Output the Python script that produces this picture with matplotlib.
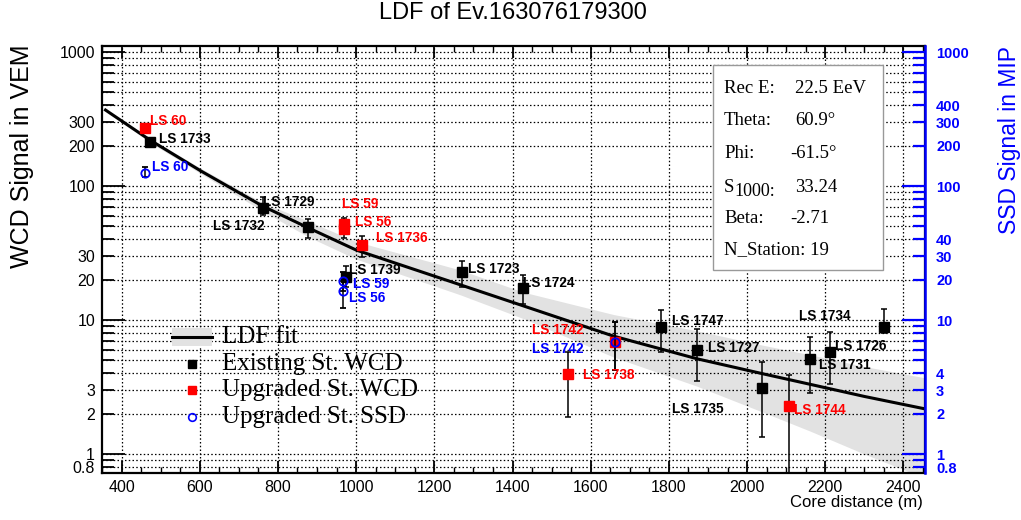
import matplotlib
matplotlib.use('Agg')
import matplotlib.pyplot as plt
from matplotlib.ticker import FixedLocator, FuncFormatter
from matplotlib.lines import Line2D
from matplotlib.patches import Rectangle

plt.rcParams['font.family'] = ['Liberation Sans', 'DejaVu Sans']

# existing stations, WCD signal (VEM)
ex_names = ['LS 1733', 'LS 1729', 'LS 1732', 'LS 1739', 'LS 1723', 'LS 1724',
            'LS 1747', 'LS 1727', 'LS 1735', 'LS 1731', 'LS 1726', 'LS 1734']
ex_r = [472, 761, 876, 973, 1270, 1426, 1779, 1871, 2039, 2162, 2213, 2349]
ex_s = [213, 68.5, 49.4, 20.9, 22.8, 17.3, 8.87, 5.97, 3.11, 5.12, 5.77, 8.87]
ex_lo = [203, 60.8, 40.9, 17.5, 17.6, 13.1, 5.77, 3.5, 1.34, 2.85, 3.33, 7.99]
ex_hi = [224, 82.8, 56.7, 25.3, 27.6, 21.7, 11.9, 8.55, 4.86, 7.45, 8.13, 12.1]

# upgraded stations, WCD signal (VEM)
up_names = ['LS 60', 'LS 59', 'LS 56', 'LS 1736', 'LS 1738', 'LS 1742', 'LS 1744']
up_r = [461, 968, 968, 1014, 1541, 1661, 2108]
up_s = [271, 52, 47.8, 36.3, 3.95, 6.85, 2.28]
up_lo = [262, 45, 40.9, 29.5, 1.89, 4.23, 0.5]
up_hi = [281, 57.8, 54, 42.3, 5.77, 9.65, 3.89]

# upgraded stations, SSD signal (MIP)
ssd_names = ['LS 60', 'LS 59', 'LS 56', 'LS 1742']
ssd_r = [459, 966, 966, 1661]
ssd_s = [125, 19.5, 16.5, 6.85]
ssd_lo = [117, 16.5, 12.3, 4.23]
ssd_hi = [139, 23, 19.5, 9.65]

# LDF fit line and its uncertainty band
fit_r = [359, 472, 602, 761, 876, 1000, 1267, 1426, 1658, 1873, 2039, 2162, 2300, 2456]
fit_s = [369, 221, 130, 70.8, 49.0, 33.3, 18.3, 12.8, 7.59, 5.13, 3.98, 3.31, 2.69, 2.17]
band_hi = [375, 228, 136, 75, 55, 38.5, 23.6, 16.2, 11.0, 8.3, 6.5, 5.5, 4.5, 3.7]
band_lo = [364, 212, 124, 65, 42, 28.5, 15.4, 10.3, 5.3, 3.2, 2.06, 1.48, 1.0, 0.66]

# station labels: text, r, signal, colour
labels = [
    ('LS 60', 474, 305, 'red'), ('LS 1733', 497, 224, 'black'),
    ('LS 60', 479, 139, 'blue'), ('LS 1729', 763, 76, 'black'),
    ('LS 1732', 635, 50.3, 'black'), ('LS 59', 965, 73, 'red'),
    ('LS 56', 996, 53.9, 'red'), ('LS 1736', 1050, 40.9, 'red'),
    ('LS 1739', 983, 23.6, 'black'), ('LS 59', 991, 18.6, 'blue'),
    ('LS 56', 983, 14.6, 'blue'), ('LS 1723', 1285, 24, 'black'),
    ('LS 1724', 1428, 18.9, 'black'), ('LS 1742', 1451, 8.42, 'red'),
    ('LS 1742', 1451, 6.07, 'blue'), ('LS 1738', 1579, 3.89, 'red'),
    ('LS 1747', 1807, 9.84, 'black'), ('LS 1727', 1901, 6.18, 'black'),
    ('LS 1735', 1807, 2.17, 'black'), ('LS 1734', 2134, 10.7, 'black'),
    ('LS 1726', 2226, 6.4, 'black'), ('LS 1731', 2183, 4.61, 'black'),
    ('LS 1744', 2121, 2.13, 'red'),
]

info_names = ['Rec E:', 'Theta:', 'Phi:', 'S', 'Beta:', 'N_Station: 19']
info_vals = ['22.5 EeV', '60.9\u00b0', '-61.5\u00b0', '33.24', '-2.71', '']

leg_labels = ['LDF fit', 'Existing St. WCD', 'Upgraded St. WCD', 'Upgraded St. SSD']

yticks_major = [1, 10, 100, 1000]
yticks_minor = [0.8, 0.9] + [m * d for d in (1, 10, 100) for m in range(2, 10)]
left_labeled = [0.8, 1, 2, 3, 10, 20, 30, 100, 200, 300, 1000]
right_labeled = [0.8, 1, 2, 3, 4, 10, 20, 30, 40, 100, 200, 300, 400, 1000]

W, H = 1021, 520
band_gray = '#e2e2e2'
serif = ['Liberation Serif', 'DejaVu Serif']


def px(x, y):
    return x / W, 1 - y / H


def make_fmt(keep):
    def f(v, pos):
        for k in keep:
            if abs(v - k) < 1e-6 * k:
                return '%g' % v
        return ''
    return FuncFormatter(f)


fig = plt.figure(figsize=(W / 100, H / 100), dpi=100)
ax = fig.add_axes([102 / W, 1 - 473 / H, 823 / W, 427 / H])

ax.fill_between(fit_r, band_lo, band_hi, color=band_gray, lw=0, zorder=1)
ax.plot(fit_r, fit_s, color='black', lw=2.2, zorder=2)

ekw = dict(ls='none', ecolor='black', elinewidth=1.1, capsize=2, capthick=1.1)
ax.errorbar(ex_r, ex_s, yerr=[[s - l for s, l in zip(ex_s, ex_lo)], [h - s for s, h in zip(ex_s, ex_hi)]],
            marker='s', ms=7, color='black', zorder=3, **ekw)
ax.errorbar(up_r, up_s, yerr=[[s - l for s, l in zip(up_s, up_lo)], [h - s for s, h in zip(up_s, up_hi)]],
            marker='s', ms=6.5, color='red', mec='red', zorder=4, **ekw)
ax.errorbar(ssd_r, ssd_s, yerr=[[s - l for s, l in zip(ssd_s, ssd_lo)], [h - s for s, h in zip(ssd_s, ssd_hi)]],
            marker='o', ms=6, mfc='none', mec='blue', mew=1.3, zorder=5, **ekw)

for txt, r, s, c in labels:
    ax.text(r, s, txt, color=c, fontsize=9.8, fontweight='bold', ha='left', va='center', zorder=6)

ax.set_yscale('log')
ax.set_xlim(350, 2455)
ax.set_ylim(0.722, 1109)
ax.xaxis.set_major_locator(FixedLocator(range(400, 2401, 200)))
ax.xaxis.set_minor_locator(FixedLocator(range(350, 2451, 50)))
ax.yaxis.set_major_locator(FixedLocator(yticks_major))
ax.yaxis.set_minor_locator(FixedLocator(yticks_minor))
ax.yaxis.set_major_formatter(make_fmt(left_labeled))
ax.yaxis.set_minor_formatter(make_fmt(left_labeled))

dots = (0, (1.2, 1.8))
ax.grid(axis='x', which='major', color='black', ls=dots, lw=0.9)
ax.grid(axis='y', which='both', color='black', ls=dots, lw=0.9)

ax.tick_params(axis='y', which='major', direction='in', length=16.5, width=1.3, labelsize=11.5, pad=5)
ax.tick_params(axis='y', which='minor', direction='in', length=8.6, width=1.3, labelsize=11.5, pad=5)
ax.tick_params(axis='x', which='major', direction='in', length=8.6, width=1.3, top=True, labelsize=11.5, pad=5)
ax.tick_params(axis='x', which='minor', direction='in', length=4.3, width=1.0, top=True)
for sp in ax.spines.values():
    sp.set_linewidth(1.6)

ax2 = ax.twinx()
ax2.set_yscale('log')
ax2.set_ylim(0.722, 1109)
ax2.yaxis.set_major_locator(FixedLocator(yticks_major))
ax2.yaxis.set_minor_locator(FixedLocator(yticks_minor))
ax2.yaxis.set_major_formatter(make_fmt(right_labeled))
ax2.yaxis.set_minor_formatter(make_fmt(right_labeled))
ax2.tick_params(axis='y', which='major', direction='in', length=16.5, width=1.6, colors='blue', labelsize=10.5, pad=8)
ax2.tick_params(axis='y', which='minor', direction='in', length=8.6, width=1.6, colors='blue', labelsize=10.5, pad=8)
for k in ('left', 'top', 'bottom'):
    ax2.spines[k].set_visible(False)
ax2.spines['right'].set_color('blue')
ax2.spines['right'].set_linewidth(1.8)

# legend, drawn by hand in figure pixels like the ROOT TLegend
leg_x, leg_y0, leg_dy = 192, 337, 26.7
ax.add_patch(Rectangle(px(172, leg_y0 + 9), 40 / W, 18 / H, transform=fig.transFigure,
                       facecolor=band_gray, edgecolor='none', zorder=7, clip_on=False))
ax.add_line(Line2D([172 / W, 212 / W], [1 - leg_y0 / H] * 2, transform=fig.transFigure,
                   color='black', lw=2.2, zorder=8, clip_on=False))
leg_styles = [dict(marker='s', color='black', ms=5.5),
              dict(marker='s', color='red', ms=5.5),
              dict(marker='o', mfc='none', mec='blue', mew=1.2, ms=5.5)]
for i, st in enumerate(leg_styles):
    yy = 1 - (leg_y0 + (i + 1) * leg_dy) / H
    ax.add_line(Line2D([leg_x / W], [yy], transform=fig.transFigure, ls='none',
                       zorder=8, clip_on=False, **st))
for i, lab in enumerate(leg_labels):
    fig.text(*px(222, leg_y0 + i * leg_dy), lab, family=serif, fontsize=18, va='center', ha='left')

# info box
x0, y0 = px(713, 270)
x1, y1 = px(883, 65)
ax.add_patch(Rectangle((x0, y0), x1 - x0, y1 - y0, transform=fig.transFigure, facecolor='white',
                       edgecolor='#999999', lw=1, zorder=7, clip_on=False))
row_y = [88, 120, 153, 187, 218, 250]
for name, val, yy in zip(info_names, info_vals, row_y):
    fig.text(*px(724, yy), name, family=serif, fontsize=13.5, va='center', ha='left', zorder=8)
    if name == 'S':
        fig.text(*px(734, yy + 4), '1000:', family=serif, fontsize=13, va='center', ha='left', zorder=8)
    if val:
        vx = 790 if val.startswith('-') else 795
        fig.text(*px(vx, yy), val, family=serif, fontsize=13.5, va='center', ha='left', zorder=8)

fig.text(*px(513, 13), 'LDF of Ev.163076179300', fontsize=17, ha='center', va='center')
fig.text(*px(923, 503), 'Core distance (m)', fontsize=12, ha='right', va='center')
fig.text(*px(22, 44), 'WCD Signal in VEM', fontsize=18, rotation=90, ha='center', va='top')
fig.text(*px(1009, 46), 'SSD Signal in MIP', fontsize=16.5, rotation=90, ha='center', va='top', color='blue')

fig.canvas.draw()
for t in ax2.get_yticklabels(which='both'):
    t.set_fontweight('bold')

fig.savefig('out.png', dpi=100)
